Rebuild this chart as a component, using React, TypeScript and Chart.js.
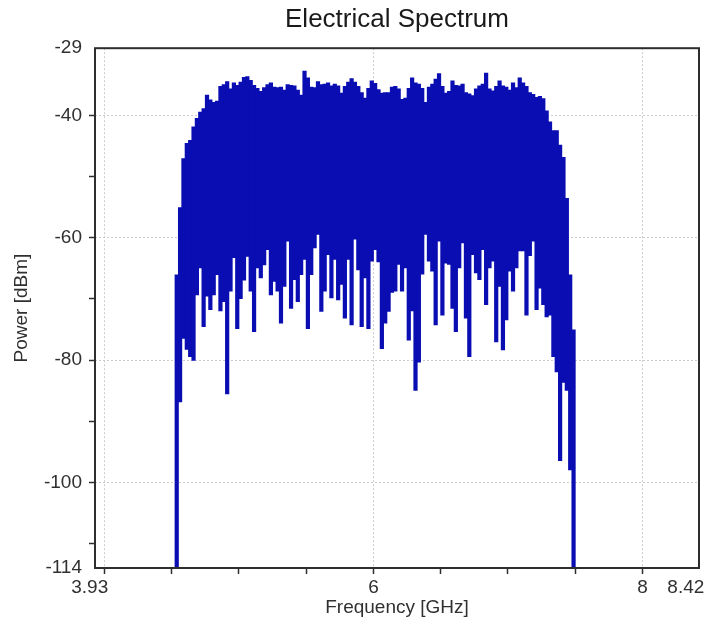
import React, { useEffect, useRef } from 'react';
import { Chart, registerables } from 'chart.js';

Chart.register(...registerables);

// Column edges of the spectrum trace (GHz)
const FREQ_GHZ = [
  4.525, 4.55, 4.575, 4.6, 4.625, 4.65, 4.675, 4.7, 4.725, 4.75,
  4.775, 4.8, 4.825, 4.85, 4.875, 4.9, 4.925, 4.95, 4.975, 5.0,
  5.025, 5.05, 5.075, 5.1, 5.125, 5.15, 5.175, 5.2, 5.225, 5.25,
  5.275, 5.3, 5.325, 5.35, 5.375, 5.4, 5.425, 5.45, 5.475, 5.5,
  5.525, 5.55, 5.575, 5.6, 5.625, 5.65, 5.675, 5.7, 5.725, 5.75,
  5.775, 5.8, 5.825, 5.85, 5.875, 5.9, 5.925, 5.95, 5.975, 6.0,
  6.025, 6.05, 6.075, 6.1, 6.125, 6.15, 6.175, 6.2, 6.225, 6.25,
  6.275, 6.3, 6.325, 6.35, 6.375, 6.4, 6.425, 6.45, 6.475, 6.5,
  6.525, 6.55, 6.575, 6.6, 6.625, 6.65, 6.675, 6.7, 6.725, 6.75,
  6.775, 6.8, 6.825, 6.85, 6.875, 6.9, 6.925, 6.95, 6.975, 7.0,
  7.025, 7.05, 7.075, 7.1, 7.125, 7.15, 7.175, 7.2, 7.225, 7.25,
  7.275, 7.3, 7.325, 7.35, 7.375, 7.4, 7.425, 7.45, 7.475, 7.5,
];

// Upper envelope of the trace in each column (dBm)
const PEAK_DBM = [
  -66, -55, -47, -44.5, -44, -41.8, -40.4, -39.4, -38.8, -36.6,
  -37.4, -37.8, -37.6, -35.2, -34.9, -34.4, -35.6, -34.6, -35.0, -34.5,
  -33.7, -33.6, -34.2, -35.0, -35.5, -36.0, -35.4, -34.9, -34.6, -35.3,
  -35.4, -35.3, -35.8, -34.9, -35.0, -35.1, -35.8, -36.6, -32.7, -33.8,
  -35.3, -35.4, -34.4, -34.9, -34.8, -34.6, -35.1, -34.8, -35.1, -36.3,
  -35.2, -34.5, -33.9, -34.5, -35.2, -36.2, -37.1, -35.5, -34.3, -34.7,
  -35.7, -36.3, -36.2, -36.2, -35.3, -35.2, -35.6, -37.3, -37.1, -35.5,
  -33.8, -34.6, -34.8, -35.5, -37.8, -35.3, -34.8, -34.0, -33.1, -35.2,
  -36.3, -36.0, -34.3, -35.0, -35.1, -34.8, -36.2, -36.4, -36.7, -35.6,
  -35.1, -34.8, -33.0, -35.6, -35.9, -35.2, -34.3, -35.1, -35.3, -35.8,
  -34.6, -35.4, -33.8, -34.6, -35.2, -36.2, -36.5, -37.0, -36.8, -37.2,
  -39.2, -41.0, -42.4, -42.4, -44.8, -46.8, -53.5, -66, -75,
];

// Lower envelope of the trace in each column (dBm)
const FLOOR_DBM = [
  -114, -86.9, -76.5, -78.3, -79.5, -80.1, -69.4, -65, -74.6, -69.6,
  -71.8, -69.4, -66.1, -72, -70.5, -85.6, -68.8, -63.3, -74.9, -70,
  -67, -63.1, -68.8, -75.4, -65, -66.6, -64.5, -62, -69.4, -67.2,
  -68.8, -74.0, -68, -60.6, -71.6, -66.9, -70.5, -66.1, -63.6, -74.9,
  -66.1, -61.7, -59.5, -72.1, -68.8, -62.8, -69.9, -63.6, -70.2, -67.7,
  -73.2, -63.6, -74.3, -60.3, -65.3, -74.6, -66.6, -74.9, -63.9, -62,
  -64, -78.2, -74, -72.1, -69, -68.8, -64.4, -68.8, -65, -76.8,
  -72, -85.0, -80.4, -66, -59.5, -63.9, -65.5, -74.3, -60.6, -72.7,
  -64.2, -64.4, -71.6, -75.4, -65, -60.9, -73.2, -79.5, -62.8, -65.8,
  -66.9, -62, -71.0, -65.0, -63.9, -77.1, -68, -78.4, -73.5, -65.5,
  -68.8, -65, -62.2, -62.2, -72.7, -63, -60.6, -71.8, -68.3, -71,
  -73, -72.7, -79.5, -82, -96.5, -83.7, -85.0, -98, -114,
];

const X_MIN = 3.93;
const X_MAX = 8.42;
const Y_MIN = -114;
const Y_MAX = -29;

const X_TICKS = [3.93, 4, 4.5, 5, 5.5, 6, 6.5, 7, 7.5, 8, 8.42];
const X_LABELED = [3.93, 6, 8, 8.42];
const X_GRID = [4, 6, 8];

const Y_TICKS = [-114, -110, -100, -90, -80, -70, -60, -50, -40, -29];
const Y_LABELED = [-114, -100, -80, -60, -40, -29];
const Y_GRID = [-100, -80, -60, -40];

const TITLE = 'Electrical Spectrum';
const X_TITLE = 'Frequency [GHz]';
const Y_TITLE = 'Power [dBm]';

const BLUE = '#0a0eb2';
const GRID = '#cccccc';
const AXIS = '#2e2e2e';
const TEXT = '#303030';
const FONT = "'Liberation Sans', Arial, sans-serif";

const near = (a: number, b: number) => Math.abs(a - b) < 1e-6;
const inList = (v: number, list: number[]) => list.some((x) => near(x, v));

export default function App() {
  const ref = useRef<HTMLCanvasElement>(null);

  useEffect(() => {
    const canvas = ref.current;
    if (!canvas) return;

    // one floating bar per column: from the lower to the upper envelope
    const columns = PEAK_DBM.map((p, i) => ({
      x: (FREQ_GHZ[i] + FREQ_GHZ[i + 1]) / 2,
      y: [FLOOR_DBM[i], p],
    }));

    const boxPlugin = {
      id: 'plotBox',
      afterDatasetsDraw(chart: any) {
        const { ctx, chartArea: a } = chart;
        ctx.save();
        ctx.strokeStyle = AXIS;
        ctx.lineWidth = 2;
        ctx.strokeRect(a.left, a.top, a.right - a.left, a.bottom - a.top);
        ctx.restore();
      },
    };

    const xLabel = (v: number) => {
      if (!inList(v, X_LABELED)) return '';
      if (near(v, X_MIN)) return String(v) + '  ';
      if (near(v, X_MAX)) return String(v) + '     ';
      return String(v);
    };

    const chart = new Chart(canvas, {
      type: 'bar',
      data: {
        datasets: [
          {
            label: 'spectrum',
            data: columns,
            backgroundColor: BLUE,
            borderWidth: 0,
            barPercentage: 1.25,
            categoryPercentage: 1,
            grouped: false,
          },
        ],
      },
      options: {
        responsive: false,
        animation: false,
        events: [],
        layout: { padding: { left: 0, right: 7, top: 0, bottom: 0 } },
        plugins: {
          legend: { display: false },
          tooltip: { enabled: false },
          title: {
            display: true,
            text: TITLE,
            fullSize: false,
            color: '#1a1a1a',
            font: { family: FONT, size: 26, weight: 'normal' },
            padding: { top: 4, bottom: 13 },
          },
        },
        scales: {
          x: {
            type: 'linear',
            min: X_MIN,
            max: X_MAX,
            offset: false,
            afterBuildTicks: (s: any) => {
              s.ticks = X_TICKS.map((v) => ({ value: v }));
            },
            afterFit: (s: any) => {
              s.height = 56;
              s.paddingLeft = 0;
              s.paddingRight = 0;
            },
            ticks: {
              autoSkip: false,
              maxRotation: 0,
              minRotation: 0,
              padding: 2,
              color: TEXT,
              font: { family: FONT, size: 19 },
              callback: (v: any) => xLabel(Number(v)),
            },
            grid: {
              offset: false,
              color: (c: any) => (c.tick && inList(c.tick.value, X_GRID) ? GRID : 'rgba(0,0,0,0)'),
              tickColor: (c: any) =>
                c.tick && (near(c.tick.value, X_MIN) || near(c.tick.value, X_MAX)) ? 'rgba(0,0,0,0)' : AXIS,
              tickLength: 6,
              lineWidth: 1,
              tickWidth: 1.5,
            },
            border: { display: false, dash: [2, 2] },
            title: {
              display: true,
              text: X_TITLE,
              color: TEXT,
              font: { family: FONT, size: 19 },
              padding: { top: 0, bottom: 5 },
            },
          },
          y: {
            type: 'linear',
            min: Y_MIN,
            max: Y_MAX,
            afterBuildTicks: (s: any) => {
              s.ticks = Y_TICKS.map((v) => ({ value: v }));
            },
            afterFit: (s: any) => {
              s.width = 95;
            },
            ticks: {
              autoSkip: false,
              padding: 7,
              color: TEXT,
              font: { family: FONT, size: 19 },
              callback: (v: any) => (inList(Number(v), Y_LABELED) ? String(v) : ''),
            },
            grid: {
              color: (c: any) => (c.tick && inList(c.tick.value, Y_GRID) ? GRID : 'rgba(0,0,0,0)'),
              tickColor: (c: any) =>
                c.tick && (near(c.tick.value, Y_MIN) || near(c.tick.value, Y_MAX)) ? 'rgba(0,0,0,0)' : AXIS,
              tickLength: 6,
              lineWidth: 1,
              tickWidth: 1.5,
            },
            border: { display: false, dash: [2, 2] },
            title: {
              display: true,
              text: Y_TITLE,
              color: TEXT,
              font: { family: FONT, size: 19 },
              padding: { top: 10, bottom: 0 },
            },
          },
        },
      },
      plugins: [boxPlugin],
    } as any);

    return () => chart.destroy();
  }, []);

  return (
    <div style={{ position: 'fixed', left: 0, top: 0, width: 706, height: 624, background: '#fff' }}>
      <canvas ref={ref} width={706} height={624} style={{ display: 'block' }} />
    </div>
  );
}
